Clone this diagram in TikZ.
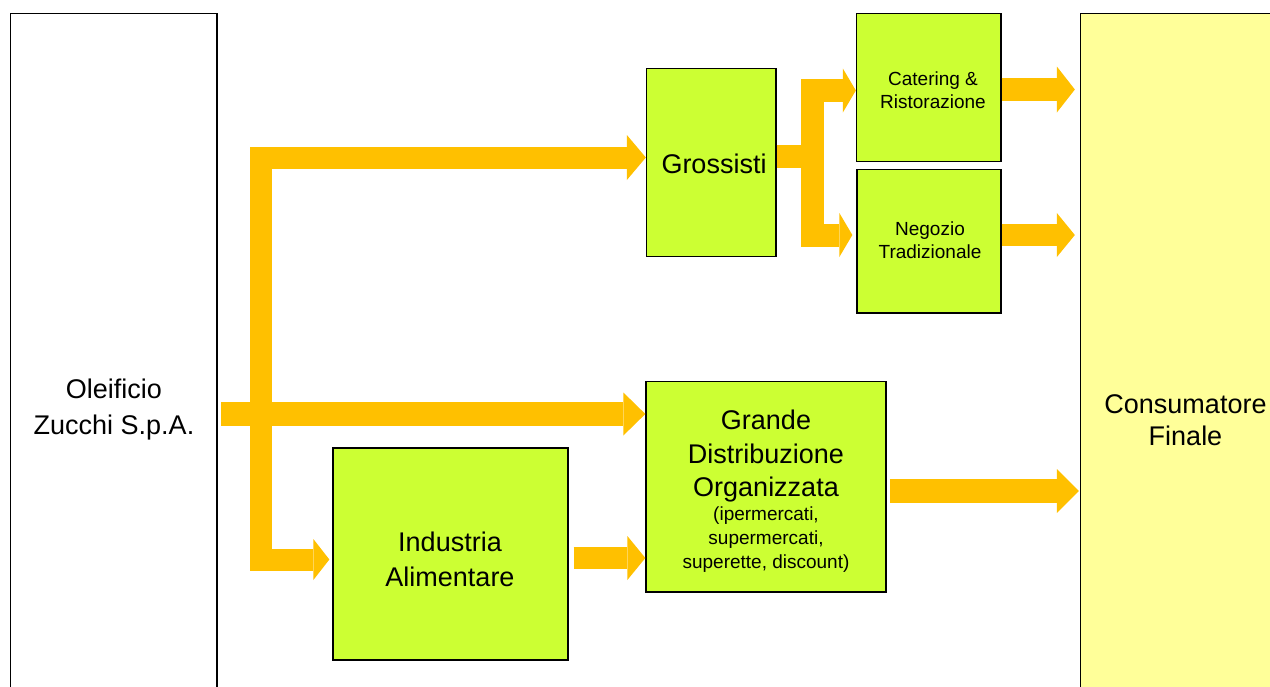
\documentclass[tikz,border=0pt]{standalone}
\usepackage{fontspec}
\setmainfont{Liberation Sans}
\usetikzlibrary{arrows.meta}
\definecolor{flow}{HTML}{FFC000}
\definecolor{boxgreen}{HTML}{CCFF33}
\definecolor{boxyellow}{HTML}{FFFF99}
\begin{document}
\begin{tikzpicture}[x=1pt,y=-1pt,
  box/.style={draw=black, line width=1.3pt, fill=boxgreen, inner sep=0pt},
  bigtext/.style={font=\fontsize{27}{34}\selectfont, align=center, inner sep=0pt, anchor=base},
  smalltext/.style={font=\fontsize{19}{23}\selectfont, align=center, inner sep=0pt, anchor=base},
  fat/.style={draw=flow, line width=#1, line join=miter},
  tip/.style 2 args={-{Triangle[length=#1,width=#2,line width=0pt]}}
]
\useasboundingbox (0,0) rectangle (1270,686);
\clip (0,0) rectangle (1270,686);
\fill[white] (0,0) rectangle (1270,686);

% boxes
\node[box, fill=white, minimum width=206.5pt, minimum height=686.5pt] (ole) at (113.75,356.75) {};
\node[box, fill=boxyellow, minimum width=219.5pt, minimum height=686.5pt] (cons) at (1190.25,356.75) {};
\node[box, minimum width=129.5pt, minimum height=188pt] (gro) at (711.25,162.5) {};
\node[box, minimum width=144.5pt, minimum height=148pt] (cat) at (928.75,87.5) {};
\node[box, minimum width=144pt, minimum height=143.5pt] (neg) at (929,241.25) {};
\node[box, minimum width=240pt, minimum height=210.5pt] (gdo) at (766,486.75) {};
\node[box, minimum width=235pt, minimum height=212pt] (ind) at (450.5,554) {};

% texts (anchor = baseline of last line)
\node[bigtext, font=\fontsize{27}{36.5}\selectfont] (oletext) at (114,434.5) {Oleificio\\Zucchi S.p.A.};
\node[bigtext, font=\fontsize{27}{32}\selectfont] (constext) at (1185.5,445) {Consumatore\\Finale};
\node[bigtext] (grotext) at (714,173) {Grossisti};
\node[smalltext] (cattext) at (933,108) {Catering \&\\Ristorazione};
\node[smalltext] (negtext) at (930,258) {Negozio\\Tradizionale};
\node[bigtext, font=\fontsize{27}{33.7}\selectfont] (gdotext) at (766,496.7) {Grande\\Distribuzione\\Organizzata};
\node[smalltext, font=\fontsize{19}{24}\selectfont] (gdosub) at (766,568.5) {(ipermercati,\\supermercati,\\superette, discount)};
\node[bigtext, font=\fontsize{27}{35}\selectfont] (indtext) at (450,586.7) {Industria\\Alimentare};

% flows
\coordinate (trunkstart) at (221,414);
\draw[fat=22pt, {Triangle[length=16pt,width=41pt,line width=0pt]}-{Triangle[length=19pt,width=45pt,line width=0pt]}]
  ([xshift=-3pt]ind.west |- 0,559.5) -- (260.5,559.5) -- (260.5,157.5) -- (gro.west |- 0,157.5);
\draw[fat=24pt, tip={22pt}{43pt}] (trunkstart) -- (gdo.west |- 0,414);
\draw[fat=22pt, tip={18pt}{44pt}] ([xshift=5pt]ind.east |- 0,558) -- (gdo.west |- 0,558);
\draw[fat=24pt, tip={22pt}{44pt}] ([xshift=3pt]gdo.east |- 0,491) -- ([xshift=-1pt]cons.west |- 0,491);
\draw[fat=23pt] (gro.east |- 0,156.5) -- (824,156.5);
\draw[fat=23pt, {Triangle[length=13pt,width=44pt,line width=0pt]}-{Triangle[length=13pt,width=44pt,line width=0pt]}]
  (cat.west |- 0,90.5) -- (812.5,90.5) -- (812.5,235) -- ([xshift=-4pt]neg.west |- 0,235);
\draw[fat=23pt, tip={18pt}{46pt}] (cat.east |- 0,89.5) -- ([xshift=-5pt]cons.west |- 0,89.5);
\draw[fat=22pt, tip={18pt}{44pt}] (neg.east |- 0,235) -- ([xshift=-5pt]cons.west |- 0,235);
\end{tikzpicture}
\end{document}
